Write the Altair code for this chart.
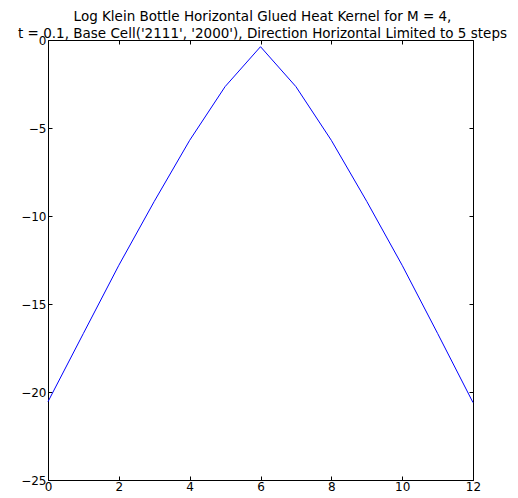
import altair as alt
import pandas as pd

# Data
steps = list(range(13))
log_kernel = [-20.55, -16.67, -12.8, -9.17, -5.7, -2.65, -0.38,
              -2.65, -5.7, -9.17, -12.8, -16.67, -20.6]
x_ticks = [0, 2, 4, 6, 8, 10, 12]
y_ticks = [0, -5, -10, -15, -20, -25]
title_lines = [
    "Log Klein Bottle Horizontal Glued Heat Kernel for M = 4,",
    "t = 0.1, Base Cell('2111', '2000'), Direction Horizontal Limited to 5 steps",
]

df = pd.DataFrame({"step": steps, "value": log_kernel})

W, H = 425, 440
FONT = "DejaVu Sans"
xs = alt.Scale(domain=[0, 12], nice=False, zero=False)
ys = alt.Scale(domain=[-25, 0], nice=False, zero=False)


def label_axis(orient, values, pad):
    return alt.Axis(orient=orient, values=values, ticks=False, domain=False,
                    grid=False, title=None, labelPadding=pad, labelFont=FONT,
                    labelFontSize=12, labelColor="black", labelFlush=False,
                    labelOverlap=False)


def tick_axis(orient, offset, values):
    return alt.Axis(orient=orient, offset=offset, values=values, labels=False,
                    domain=False, grid=False, title=None, ticks=True,
                    tickSize=4, tickColor="black", tickWidth=1)


base = alt.Chart(df)

line = base.mark_line(color="#0000ff", strokeWidth=1).encode(
    x=alt.X("step:Q", scale=xs, axis=label_axis("bottom", x_ticks, 1)),
    y=alt.Y("value:Q", scale=ys, axis=label_axis("left", y_ticks, 2)),
)

ticks_a = base.mark_line(opacity=0).encode(
    x=alt.X("step:Q", scale=xs, axis=tick_axis("top", -H, x_ticks)),
    y=alt.Y("value:Q", scale=ys, axis=tick_axis("right", -W, y_ticks)),
)

ticks_b = base.mark_line(opacity=0).encode(
    x=alt.X("step:Q", scale=xs, axis=tick_axis("bottom", -H, x_ticks)),
    y=alt.Y("value:Q", scale=ys, axis=tick_axis("left", -W, y_ticks)),
)

chart = (
    alt.layer(ticks_a, ticks_b, line)
    .resolve_axis(x="independent", y="independent")
    .properties(
        width=W,
        height=H,
        title=alt.TitleParams(text=title_lines, anchor="middle", font=FONT,
                              fontSize=13.5, fontWeight="normal", color="black",
                              offset=4, dy=10, dx=2, lineHeight=17),
        autosize=alt.AutoSizeParams(type="none"),
        padding={"left": 40, "top": 32, "right": 37, "bottom": 14},
    )
    .configure_view(stroke="black", strokeWidth=1)
)

chart.save("out.html", embed_options={"renderer": "svg", "actions": False})
